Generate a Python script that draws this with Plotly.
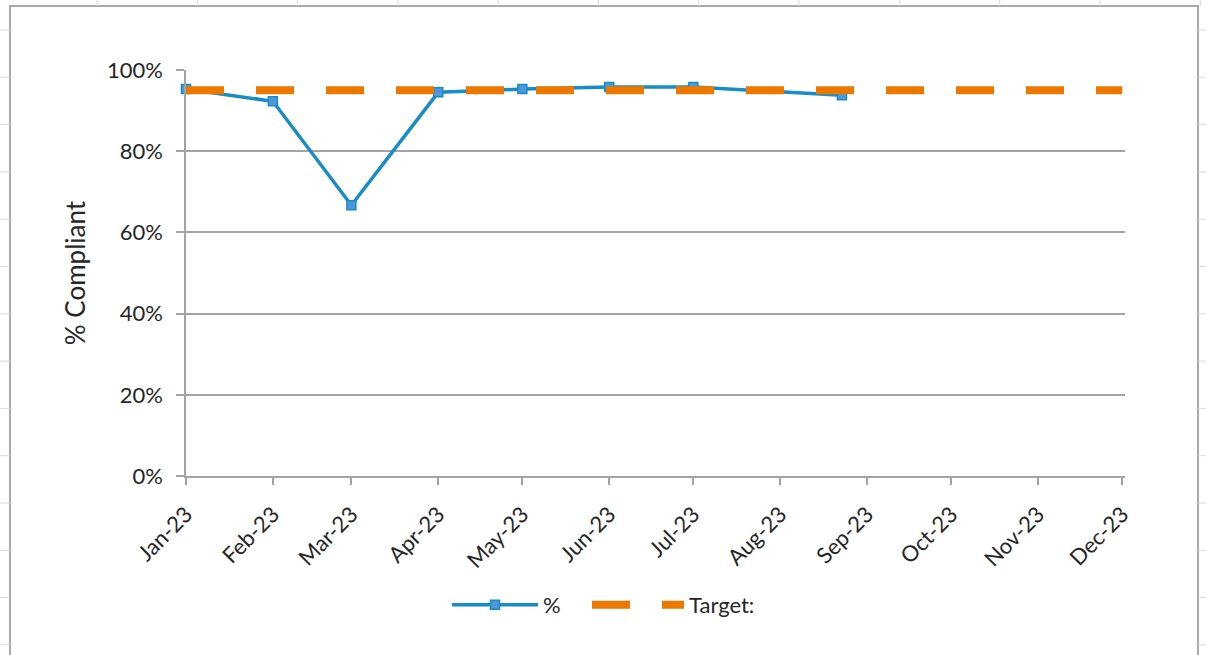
import plotly.graph_objects as go

# ---- data ----
dates = ["2023-01-01", "2023-02-01", "2023-03-01", "2023-04-01", "2023-05-01",
         "2023-06-01", "2023-07-01", "2023-08-23"]
pct = [0.953, 0.923, 0.667, 0.945, 0.953, 0.958, 0.958, 0.938]

target_dates = ["2023-01-01", "2023-02-01", "2023-03-01", "2023-04-01", "2023-05-01",
                "2023-06-01", "2023-07-01", "2023-08-01", "2023-09-01", "2023-10-01",
                "2023-11-01", "2023-12-01"]
target = [0.95] * 12

# ---- layout geometry ----
W, H = 1206, 655
ML, MR, MT, MB = 186, 81, 70, 179
PW, PH = W - ML - MR, H - MT - MB


def px2x(px):
    return (px - ML) / PW


def py2y(py):
    return (H - MB - py) / PH


BLUE = "#168CC8"
BLUE_FILL = "#4F97D9"
ORANGE = "#EC7800"
GRID = "#A3A3A3"
FONT = "Lato"
TXT = "#262626"

fig = go.Figure()
fig.add_trace(go.Scatter(
    x=dates, y=pct, name="%", mode="lines+markers",
    line=dict(color=BLUE, width=3.5),
    marker=dict(symbol="square", size=9, color=BLUE_FILL,
                line=dict(color=BLUE, width=1.5)),
    cliponaxis=False, legend="legend",
))
fig.add_trace(go.Scatter(
    x=target_dates, y=target, name="Target:", mode="lines",
    line=dict(color=ORANGE, width=8, dash="38px,32px"),
    cliponaxis=False, legend="legend2",
))

# spreadsheet background decoration + chart frame
shapes = [dict(type="rect", xref="paper", yref="paper", layer="below",
               x0=px2x(10), x1=px2x(1198), y0=py2y(670), y1=py2y(6),
               line=dict(color="#A8A8A8", width=2), fillcolor="rgba(0,0,0,0)")]
cell_col = "#DADADA"
for k in range(12):
    cx = 97 + 100.3 * k
    shapes.append(dict(type="line", xref="paper", yref="paper", layer="below",
                       x0=px2x(cx), x1=px2x(cx), y0=py2y(0), y1=py2y(6),
                       line=dict(color=cell_col, width=1)))
for k in range(14):
    cy = 30 + 47.3 * k
    shapes.append(dict(type="line", xref="paper", yref="paper", layer="below",
                       x0=px2x(0), x1=px2x(10), y0=py2y(cy), y1=py2y(cy),
                       line=dict(color=cell_col, width=1)))
    shapes.append(dict(type="line", xref="paper", yref="paper", layer="below",
                       x0=px2x(1198), x1=px2x(1206), y0=py2y(cy), y1=py2y(cy),
                       line=dict(color=cell_col, width=1)))

legend_common = dict(orientation="h", yanchor="middle", y=py2y(605),
                     xanchor="left", bgcolor="rgba(0,0,0,0)",
                     font=dict(family=FONT, size=22, color=TXT))

fig.update_layout(
    width=W, height=H,
    margin=dict(l=ML, r=MR, t=MT, b=MB, autoexpand=False),
    paper_bgcolor="white", plot_bgcolor="white",
    font=dict(family=FONT, size=22, color=TXT),
    showlegend=True,
    legend=dict(x=px2x(447), itemwidth=86, **legend_common),
    legend2=dict(x=px2x(587), itemwidth=92, **legend_common),
    shapes=shapes,
    xaxis=dict(
        type="date", range=["2023-01-01", "2023-12-02"],
        tick0="2023-01-01", dtick="M1", tickformat="%b-%y", tickangle=-45,
        showgrid=False, zeroline=False,
        showline=True, linecolor=GRID, linewidth=1.5,
        ticks="outside", ticklen=7, tickcolor=GRID, tickwidth=1.5,
        ticklabelstandoff=8,
        tickfont=dict(family=FONT, size=22, color=TXT),
        automargin=False,
    ),
    yaxis=dict(
        range=[0, 1], dtick=0.2, tickformat=".0%",
        showgrid=True, gridcolor=GRID, gridwidth=1.5, zeroline=False,
        showline=True, linecolor=GRID, linewidth=1.5,
        ticks="outside", ticklen=8, tickcolor=GRID, tickwidth=1.5,
        ticklabelstandoff=9,
        tickfont=dict(family=FONT, size=22, color=TXT),
        title=dict(text="% Compliant", standoff=14,
                   font=dict(family=FONT, size=26, color=TXT)),
        automargin=False,
    ),
)

fig.write_html("out.html")
